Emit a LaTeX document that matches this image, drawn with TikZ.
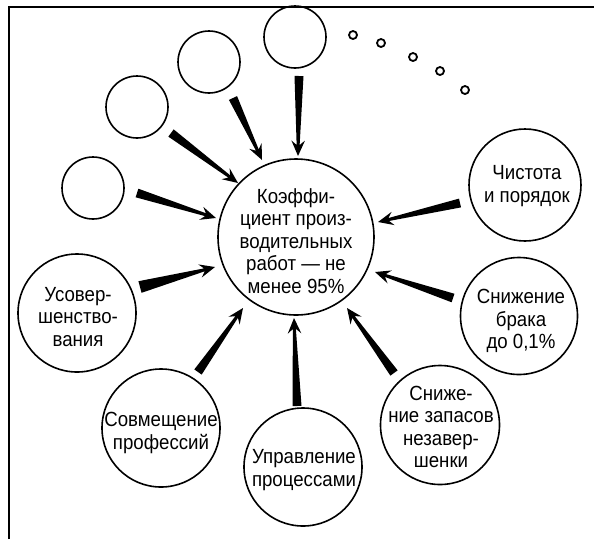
\documentclass[tikz,border=0pt]{standalone}
\usepackage{fontspec}
\setmainfont{Liberation Sans}[FakeStretch=0.91]
\usetikzlibrary{calc}

% tapered wedge arrow: wide blunt tail at #2, stealth-like head with tip at #3
\newcommand\wedgearrow[3][4.5pt]{%
  \coordinate (wa-n) at ($(#3)!11pt!(#2)$);
  \coordinate (wa-b) at ($(#3)!15.5pt!(#2)$);
  \fill ($(#2)!#1!90:(#3)$) -- ($(wa-n)!1.5pt!90:(#3)$) -- ($(wa-b)!6.8pt!90:(#3)$)
    -- (#3) -- ($(wa-b)!6.8pt!-90:(#3)$) -- ($(wa-n)!1.5pt!-90:(#3)$)
    -- ($(#2)!#1!-90:(#3)$) -- cycle;
}

\tikzset{
  bubble/.style={circle, draw, line width=1.6pt, inner sep=0pt, minimum size=#1},
  dot/.style={circle, draw, line width=1.8pt, inner sep=0pt, minimum size=8pt},
  txt/.style={align=center, inner sep=0pt, font=\fontsize{20.5}{22.5}\selectfont},
  frame/.style={line width=1.3pt}
}

\begin{document}
\begin{tikzpicture}[x=1pt, y=-1pt]
\useasboundingbox (0,0) rectangle (594,539);

% open frame: left and top rules
\draw[frame] (9,539) -- (9,7) -- (594,7);

% central goal
\node[bubble=156pt] (goal) at (296,237) {};
\node[txt] at (296,241) {Коэффи-\\циент произ-\\водительных\\работ — не\\менее 95\%};

% empty circles for further factors
\node[bubble=62pt] (e1) at (295,37) {};
\node[bubble=62pt] (e2) at (209,62) {};
\node[bubble=62pt] (e3) at (137,107) {};
\node[bubble=62pt] (e4) at (93,188) {};

% trailing dots
\node[dot] (d1) at (353,35) {};
\node[dot] (d2) at (381,43) {};
\node[dot] (d3) at (413,57) {};
\node[dot] (d4) at (440,71) {};
\node[dot] (d5) at (465,90) {};

% named factors
\node[bubble=112pt] (f1) at (525,185) {};
\node[txt] at (527,186) {Чистота\\и порядок};
\node[bubble=117pt] (f2) at (519,316) {};
\node[txt] at (521,321) {Снижение\\брака\\до 0,1\%};
\node[bubble=119pt] (f3) at (440,425) {};
\node[txt] at (441,427) {Сниже-\\ние запасов\\незавер-\\шенки};
\node[bubble=118pt] (f4) at (303,467) {};
\node[txt] at (304,470) {Управление\\процессами};
\node[bubble=118pt] (f5) at (161,428) {};
\node[txt] at (161,433) {Совмещение\\профессий};
\node[bubble=118pt] (f6) at (77,313) {};
\node[txt] at (78,317) {Усовер-\\шенство-\\вания};

% arrow ends
\coordinate (t1) at (299,76);  \coordinate (h1) at (298,156);
\coordinate (t2) at (233,98);  \coordinate (h2) at (262,160);
\coordinate (t3) at (171,133); \coordinate (h3) at (238,183);
\coordinate (t4) at (137,193); \coordinate (h4) at (216,218);
\coordinate (t5) at (140,287); \coordinate (h5) at (215,267);
\coordinate (t6) at (198,372); \coordinate (h6) at (243,308);
\coordinate (t7) at (297,406); \coordinate (h7) at (294,318);
\coordinate (t8) at (394,373); \coordinate (h8) at (347,308);
\coordinate (t9) at (453,298); \coordinate (h9) at (375,272);
\coordinate (t10) at (460,203); \coordinate (h10) at (378,222);

\wedgearrow{t1}{h1}
\wedgearrow{t2}{h2}
\wedgearrow{t3}{h3}
\wedgearrow{t4}{h4}
\wedgearrow[6pt]{t5}{h5}
\wedgearrow{t6}{h6}
\wedgearrow{t7}{h7}
\wedgearrow{t8}{h8}
\wedgearrow{t9}{h9}
\wedgearrow{t10}{h10}
\end{tikzpicture}
\end{document}
